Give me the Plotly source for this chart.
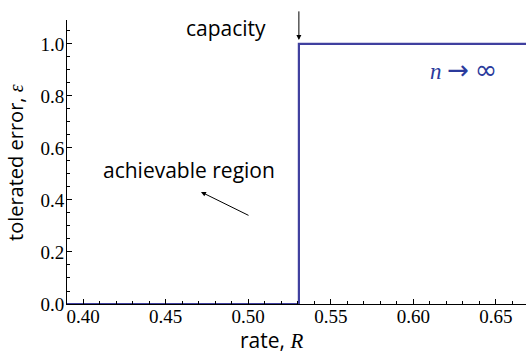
import plotly.graph_objects as go

# data
rate = [0.3903, 0.5307, 0.5307, 0.6682]
error = [0.0, 0.0, 1.0, 1.0]
capacity = 0.5307
x_range = [0.3903, 0.6682]
y_range = [0.0, 1.092]

SERIF = "Liberation Serif"
SANS = "Open Sans"
LINE = "#40409f"

fig = go.Figure()
fig.add_trace(go.Scatter(x=rate, y=error, mode="lines",
                         line=dict(color=LINE, width=2.2), cliponaxis=False,
                         hoverinfo="skip", showlegend=False))

axis_common = dict(showline=True, linecolor="black", linewidth=1, ticks="inside",
                   ticklen=5, tickcolor="black", showgrid=False, zeroline=False,
                   tickfont=dict(family=SERIF, size=19, color="black"))

fig.update_xaxes(range=x_range, tickmode="linear", tick0=0.40, dtick=0.05, tickformat=".2f",
                 ticklabelstandoff=-5,
                 minor=dict(ticks="inside", dtick=0.01, tick0=0.40, ticklen=3, tickcolor="black"),
                 **axis_common)
fig.update_yaxes(range=y_range, tickmode="linear", tick0=0.0, dtick=0.2, tickformat=".1f",
                 ticklabelstandoff=-2,
                 minor=dict(ticks="inside", dtick=0.05, tick0=0.0, ticklen=3, tickcolor="black"),
                 **axis_common)

ann_font = dict(family=SANS, size=21, color="black")
fig.add_annotation(x=0.4866, y=1.0615, text="capacity", showarrow=False, font=ann_font)
fig.add_annotation(x=capacity, y=1.015, ax=capacity, ay=1.131, xref="x", yref="y",
                   axref="x", ayref="y", text="", showarrow=True, arrowhead=2,
                   arrowsize=1, arrowwidth=1, arrowcolor="black")
fig.add_annotation(x=0.4642, y=0.515, text="achievable region", showarrow=False, font=ann_font)
fig.add_annotation(x=0.4714, y=0.431, ax=0.5011, ay=0.338, xref="x", yref="y",
                   axref="x", ayref="y", text="", showarrow=True, arrowhead=2,
                   arrowsize=1, arrowwidth=1, arrowcolor="black")
fig.add_annotation(x=0.6302, y=0.90,
                   text="<i>n</i> <span style='font-family:DejaVu Sans;font-size:26px'>→</span> "
                        "<span style='font-family:DejaVu Sans;font-size:27px'>∞</span>",
                   showarrow=False, font=dict(family=SERIF, size=23, color="#2b3a9c"))
fig.add_annotation(xref="paper", yref="paper", x=0.4466, y=-0.1268,
                   xanchor="center", yanchor="middle",
                   text="rate, <span style='font-family:Liberation Serif'><i>R</i></span>",
                   showarrow=False, font=ann_font)
fig.add_annotation(xref="paper", yref="paper", x=-0.1133, y=0.5, textangle=-90,
                   xanchor="center", yanchor="middle",
                   text="tolerated error, <span style='font-family:Liberation Serif'><i>ε</i></span>",
                   showarrow=False, font=dict(family=SANS, size=20, color="black"))

fig.update_layout(width=526, height=355, margin=dict(l=67, r=0, t=20, b=51),
                  paper_bgcolor="white", plot_bgcolor="white")
fig.write_html("out.html", config={"displayModeBar": False},
               post_script="document.body.style.margin='0px';")
